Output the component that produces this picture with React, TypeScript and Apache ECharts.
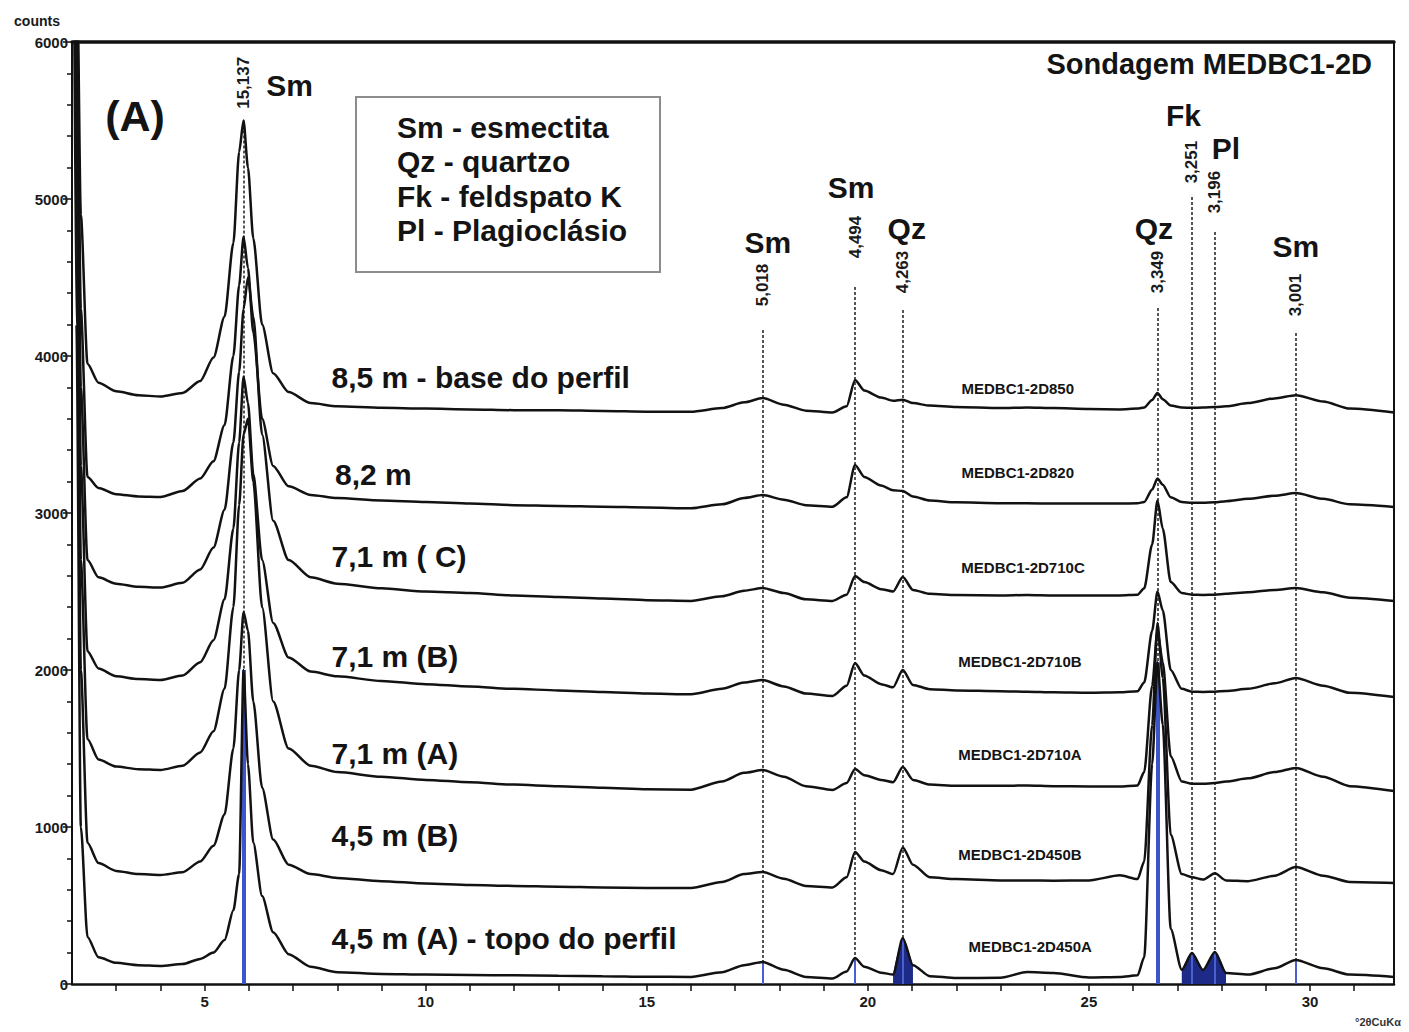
import React, { useEffect, useRef } from "react";
import * as echarts from "echarts";

const FONT = '"Liberation Sans", Arial, Helvetica, sans-serif';

// 2θ sampling positions (degrees)
const twoTheta = [
  2.0, 2.1, 2.2, 2.35, 2.6, 3.0, 3.5, 4.0, 4.5, 4.9,
  5.2, 5.45, 5.65, 5.78, 5.88, 5.98, 6.1, 6.3, 6.55, 6.9,
  7.4, 8.0, 9.0, 10.0, 11.0, 12.0, 13.0, 14.0, 15.0, 16.0,
  16.7, 17.2, 17.62, 18.1, 18.6, 19.2, 19.52, 19.71, 19.92, 20.3,
  20.57, 20.79, 21.02, 21.4, 22.0, 23.0, 23.6, 24.2, 25.0, 25.7,
  26.1, 26.25, 26.43, 26.55, 26.67, 26.85, 27.1, 27.33, 27.58, 27.85,
  28.1, 28.6, 29.2, 29.68, 30.3, 30.9, 31.9,
];

// counts, one array per sample (top to bottom)
const s850 = [
  9000, 6800, 4900, 3950, 3830, 3775, 3750, 3742, 3765, 3840,
  3990, 4250, 4720, 5300, 5500, 5200, 4750, 4200, 3890, 3770,
  3700, 3680, 3670, 3665, 3660, 3655, 3655, 3650, 3645, 3645,
  3668, 3705, 3732, 3690, 3652, 3640, 3680, 3847, 3780, 3735,
  3715, 3722, 3700, 3684, 3675, 3668, 3672, 3668, 3662, 3660,
  3665, 3672, 3720, 3765, 3725, 3685, 3672, 3670, 3672, 3675,
  3680, 3700, 3730, 3750, 3710, 3665, 3640,
];
const s820 = [
  9000, 6500, 4300, 3230, 3160, 3120, 3105, 3102, 3140, 3220,
  3330, 3560, 4000, 4450, 4760, 4560, 4150, 3600, 3300, 3170,
  3115, 3095, 3080, 3070, 3060, 3050, 3045, 3040, 3035, 3030,
  3055, 3095, 3114, 3085, 3050, 3040, 3100, 3306, 3230, 3175,
  3145, 3140, 3105, 3080, 3068, 3062, 3062, 3060, 3060, 3060,
  3062, 3070, 3150, 3220, 3180, 3100, 3070, 3065, 3065, 3068,
  3075, 3090, 3110, 3127, 3090, 3055, 3038,
];
const s710C = [
  9000, 6200, 3800, 2700, 2590, 2550, 2530, 2525, 2555, 2640,
  2780, 3020, 3450, 3900, 4300, 4500, 4250, 3500, 2950, 2700,
  2590, 2550, 2520, 2500, 2490, 2475, 2465, 2455, 2445, 2440,
  2470, 2505, 2522, 2490, 2450, 2440, 2480, 2599, 2560, 2515,
  2500, 2592, 2510, 2485, 2478, 2475, 2478, 2475, 2475, 2475,
  2480, 2520, 2800, 3080, 2900, 2560, 2490, 2480, 2478, 2480,
  2485, 2495, 2510, 2522, 2495, 2460, 2439,
];
const s710B = [
  9000, 6000, 3300, 2120, 2010, 1960, 1942, 1936, 1965, 2050,
  2190, 2450, 2900, 3450, 3870, 3700, 3250, 2700, 2300, 2080,
  1990, 1960, 1930, 1910, 1895, 1880, 1870, 1860, 1850, 1845,
  1880, 1920, 1936, 1895, 1850, 1835, 1900, 2044, 1965, 1910,
  1890, 2000, 1905, 1878, 1870, 1865, 1862, 1858, 1855, 1858,
  1865, 1920, 2250, 2500, 2380, 2000, 1880, 1862, 1860, 1862,
  1866, 1880, 1915, 1949, 1900, 1855, 1828,
];
const s710A = [
  9000, 5600, 2700, 1560, 1430, 1385, 1368, 1363, 1390, 1475,
  1610, 1880, 2400, 3050, 3500, 3600, 3200, 2400, 1800, 1500,
  1390, 1350, 1320, 1300, 1285, 1270, 1260, 1250, 1240, 1238,
  1290, 1345, 1363, 1320, 1260, 1236, 1280, 1369, 1330, 1300,
  1285, 1382, 1300, 1270, 1262, 1262, 1265, 1260, 1258, 1258,
  1265, 1350, 1900, 2250, 2050, 1450, 1290, 1275, 1275, 1280,
  1290, 1310, 1350, 1376, 1320, 1260, 1229,
];
const s450B = [
  9000, 5200, 2000, 900, 770, 720, 700, 694, 712, 780,
  880, 1080, 1500, 2000, 2370, 2250, 1800, 1250, 920, 760,
  700, 675, 655, 640, 630, 625, 620, 615, 612, 612,
  650, 700, 713, 670, 625, 615, 680, 840, 780, 725,
  700, 870, 760, 680, 668, 660, 660, 658, 660, 692,
  668, 780, 1650, 2300, 1950, 950, 700, 680, 665, 705,
  660, 655, 690, 745, 690, 650, 643,
];
const s450A = [
  9000, 4200, 1000, 300, 170, 135, 120, 115, 127, 160,
  200, 280, 470, 700, 2000, 1400, 900, 560, 330, 190,
  110, 75, 64, 60, 58, 55, 52, 50, 46, 45,
  75, 120, 140, 90, 45, 35, 80, 165, 110, 72,
  60, 293, 120, 50, 38, 40, 76, 70, 42, 45,
  55, 170, 1400, 2050, 1650, 350, 90, 197, 89, 204,
  70, 60, 100, 153, 100, 60, 45,
];

const sampleCodes = [
  "MEDBC1-2D850", "MEDBC1-2D820", "MEDBC1-2D710C", "MEDBC1-2D710B",
  "MEDBC1-2D710A", "MEDBC1-2D450B", "MEDBC1-2D450A",
];
const sampleDepths = [
  "8,5 m - base do perfil", "8,2 m", "7,1 m ( C)", "7,1 m (B)",
  "7,1 m (A)", "4,5 m (B)", "4,5 m (A) - topo do perfil",
];
const depthLabelX = [7.87, 7.95, 7.87, 7.87, 7.87, 7.87, 7.87];
const depthLabelY = [3860, 3248, 2720, 2089, 1465, 943, 287];
const codeLabelX = [23.39, 23.39, 23.51, 23.44, 23.44, 23.44, 23.67];
const codeLabelY = [3790, 3261, 2650, 2051, 1459, 822, 236];

// reflections: 2θ position, d-spacing label, top of dotted line, label centre
const peakTwoTheta = [5.88, 17.62, 19.71, 20.79, 26.55, 27.33, 27.85, 29.68];
const dSpacings = ["15,137", "5,018", "4,494", "4,263", "3,349", "3,251", "3,196", "3,001"];
const dLineTop = [5500, 4165, 4439, 4293, 4306, 5012, 4790, 4146];
const dLabelY = [5740, 4452, 4758, 4535, 4535, 5235, 5044, 4388];

const mineralNames = ["Sm", "Sm", "Sm", "Qz", "Qz", "Fk", "Pl", "Sm"];
const mineralX = [6.92, 17.74, 19.62, 20.88, 26.47, 27.14, 28.1, 29.68];
const mineralY = [5720, 4726, 5076, 4809, 4815, 5530, 5324, 4700];

const legendLines = ["Sm - esmectita", "Qz - quartzo", "Fk - feldspato K", "Pl - Plagioclásio"];

const yTicks = [0, 1000, 2000, 3000, 4000, 5000, 6000];
const xLabelValues = [5, 10, 15, 20, 25, 30];
const xTickValues = [3, 4, 5, 6, 7, 8, 9, 10, 11, 12, 13, 14, 15, 16, 17, 18, 19, 20, 21, 22, 23, 24, 25, 26, 27, 28, 29, 30, 31];

const fillWindows = [[20.5, 21.1], [27.05, 28.15]];

export default function App() {
  const ref = useRef<HTMLDivElement>(null);

  useEffect(() => {
    const chart = echarts.init(ref.current!, null, { renderer: "svg" });
    const curves = [s850, s820, s710C, s710B, s710A, s450B, s450A];

    const curveSeries = curves.map((vals, k) => ({
      type: "line",
      name: sampleCodes[k],
      data: twoTheta.map((x, i) => [x, vals[i]]),
      symbol: "none",
      smooth: 0.25,
      smoothMonotone: "x",
      clip: true,
      silent: true,
      z: 5,
      lineStyle: { color: "#121212", width: 2.5 },
    }));

    const stickData = peakTwoTheta.map((p, i) => {
      const idx = twoTheta.indexOf(p);
      const h = idx >= 0 ? s450A[idx] : 0;
      const wide = i === 0 || i === 4;
      return [
        { coord: [p, 0], lineStyle: { width: wide ? 4 : 2, color: wide ? "#3d55c8" : "#4a5fd0", type: "solid" } },
        { coord: [p, h] },
      ];
    });

    const fillSeries = {
      type: "line",
      name: "fill",
      data: twoTheta.map((x, i) =>
        fillWindows.some(([a, b]) => x >= a && x <= b) ? [x, s450A[i]] : [x, null]
      ),
      symbol: "none",
      smooth: 0.25,
      connectNulls: false,
      silent: true,
      z: 3,
      lineStyle: { width: 0 },
      areaStyle: { color: "#1d2a86", opacity: 1 },
      markLine: {
        silent: true,
        z: 4,
        symbol: ["none", "none"],
        label: { show: false },
        lineStyle: { type: "solid" },
        data: stickData,
      },
    };

    const labelItemStyle = { color: "rgba(0,0,0,0)", opacity: 1 };

    const dLabelSeries = {
      type: "scatter",
      name: "dlabels",
      symbolSize: 1,
      silent: true,
      z: 2,
      itemStyle: labelItemStyle,
      data: peakTwoTheta.map((p, i) => ({ value: [p, dLabelY[i]], name: dSpacings[i] })),
      label: {
        show: true,
        formatter: "{b}",
        position: "inside",
        rotate: 90,
        align: "center",
        verticalAlign: "middle",
        fontSize: 17,
        fontWeight: "bold",
        fontFamily: FONT,
        color: "#1a1a1a",
      },
      markLine: {
        silent: true,
        z: 2,
        symbol: ["none", "none"],
        label: { show: false },
        lineStyle: { type: [3, 2], width: 1.5, color: "#1e1e1e", opacity: 1 },
        data: peakTwoTheta.map((p, i) => [{ coord: [p, dLineTop[i]] }, { coord: [p, 0] }]),
      },
    };

    const bigText = (names: string[], xs: number[], ys: number[], align: string, size: number, nm: string) => ({
      type: "scatter",
      name: nm,
      symbolSize: 1,
      silent: true,
      z: 6,
      itemStyle: labelItemStyle,
      data: names.map((t, i) => ({ value: [xs[i], ys[i]], name: t })),
      label: {
        show: true,
        formatter: "{b}",
        position: "inside",
        align,
        verticalAlign: "middle",
        fontSize: size,
        fontWeight: "bold",
        fontFamily: FONT,
        color: "#141414",
      },
    });

    const option = {
      animation: false,
      backgroundColor: "#ffffff",
      grid: { left: 72, right: 15, top: 42, bottom: 48, containLabel: false },
      xAxis: [
        {
          type: "value",
          min: 2,
          max: 31.9,
          axisLine: { show: true, onZero: false, lineStyle: { color: "#111", width: 2.5 } },
          axisTick: { show: true, customValues: xTickValues, length: 7, lineStyle: { color: "#111", width: 1.5 } },
          axisLabel: {
            customValues: xLabelValues,
            margin: 10,
            fontSize: 15,
            fontWeight: "bold",
            fontFamily: FONT,
            color: "#1a1a1a",
          },
          splitLine: { show: false },
        },
        {
          type: "value",
          position: "top",
          min: 2,
          max: 31.9,
          axisLine: { show: true, onZero: false, lineStyle: { color: "#111", width: 3.5 } },
          axisTick: { show: false },
          axisLabel: { show: false },
          splitLine: { show: false },
        },
      ],
      yAxis: [
        {
          type: "value",
          min: 0,
          max: 6000,
          interval: 1000,
          axisLine: { show: true, onZero: false, lineStyle: { color: "#111", width: 2 } },
          axisTick: { show: true, length: 9, lineStyle: { color: "#111", width: 1.5 } },
          minorTick: { show: true, splitNumber: 5, length: 5, lineStyle: { color: "#111", width: 1.5 } },
          axisLabel: {
            margin: 4,
            fontSize: 15,
            fontWeight: "bold",
            fontFamily: FONT,
            color: "#1a1a1a",
            formatter: (v: number) => (yTicks.indexOf(v) >= 0 ? String(v) : ""),
          },
          splitLine: { show: false },
          minorSplitLine: { show: false },
        },
        {
          type: "value",
          position: "right",
          min: 0,
          max: 6000,
          axisLine: { show: true, onZero: false, lineStyle: { color: "#111", width: 2 } },
          axisTick: { show: false },
          axisLabel: { show: false },
          splitLine: { show: false },
        },
      ],
      series: [
        dLabelSeries,
        fillSeries,
        ...curveSeries,
        bigText(mineralNames, mineralX, mineralY, "center", 30, "minerals"),
        bigText(sampleDepths, depthLabelX, depthLabelY, "left", 30, "depths"),
        bigText(sampleCodes, codeLabelX, codeLabelY, "center", 15, "codes"),
      ],
      graphic: [
        {
          type: "text",
          x: 37,
          y: 21,
          style: { text: "counts", fontSize: 14, fontWeight: "bold", fontFamily: FONT, fill: "#1a1a1a", align: "center", verticalAlign: "middle" },
        },
        {
          type: "text",
          x: 1378,
          y: 1022,
          style: { text: "°2θCuKα", fontSize: 11, fontWeight: "bold", fontFamily: FONT, fill: "#333", align: "center", verticalAlign: "middle" },
        },
        {
          type: "text",
          x: 1372,
          y: 64,
          style: { text: "Sondagem MEDBC1-2D", fontSize: 29, fontWeight: "bold", fontFamily: FONT, fill: "#141414", align: "right", verticalAlign: "middle" },
        },
        {
          type: "text",
          x: 135,
          y: 116,
          style: { text: "(A)", fontSize: 43, fontWeight: "bold", fontFamily: FONT, fill: "#141414", align: "center", verticalAlign: "middle" },
        },
        {
          type: "rect",
          shape: { x: 356, y: 97, width: 304, height: 175 },
          style: { fill: "#ffffff", stroke: "#8c8c8c", lineWidth: 2 },
        },
        ...legendLines.map((t, i) => ({
          type: "text",
          x: 397,
          y: 127 + i * 34.5,
          style: { text: t, fontSize: 30, fontWeight: "bold", fontFamily: FONT, fill: "#141414", align: "left", verticalAlign: "middle" },
        })),
      ],
    };

    chart.setOption(option as any);
    return () => chart.dispose();
  }, []);

  return (
    <div
      ref={ref}
      style={{ position: "absolute", left: 0, top: 0, width: 1409, height: 1032 }}
    />
  );
}
